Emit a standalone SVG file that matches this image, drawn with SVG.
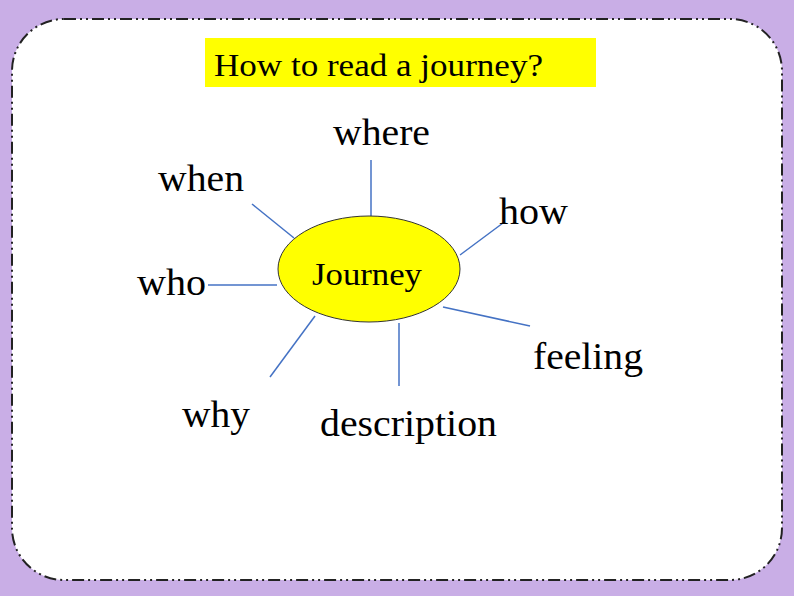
<svg xmlns="http://www.w3.org/2000/svg" width="794" height="596" viewBox="0 0 794 596">
<style>
.w{font-family:"Liberation Serif",serif;font-size:37px;fill:#000}
.c line{stroke:#4472c4;stroke-width:1.5}
</style>
<rect width="794" height="596" fill="#c9aee6"/>
<rect x="12" y="19" width="770" height="561" rx="52" fill="#fff" stroke="#222" stroke-width="2" stroke-dasharray="12 4 2 4 2 4"/>
<g id="title"><rect x="205" y="38" width="391" height="49" fill="#ffff00"/>
<text x="214" y="76" font-family="Liberation Serif,serif" font-size="31" textLength="329" lengthAdjust="spacingAndGlyphs">How to read a journey?</text></g>
<g class="c" id="connectors">
<line x1="371" y1="160" x2="371" y2="216"/>
<line x1="252" y1="204" x2="294" y2="238"/>
<line x1="460" y1="255" x2="503" y2="223"/>
<line x1="208" y1="285" x2="277" y2="285"/>
<line x1="443" y1="307" x2="530" y2="326"/>
<line x1="399" y1="323" x2="399" y2="386"/>
<line x1="315" y1="316" x2="270" y2="377"/>
</g>
<g id="journey"><ellipse cx="369" cy="269" rx="91" ry="53" fill="#ffff00" stroke="#333" stroke-width="1"/>
<text x="312" y="285" font-family="Liberation Serif,serif" font-size="31" textLength="110" lengthAdjust="spacingAndGlyphs">Journey</text></g>
<g id="where"><text class="w" x="333" y="145" textLength="97" lengthAdjust="spacingAndGlyphs">where</text></g>
<g id="when"><text class="w" x="158" y="191" textLength="86" lengthAdjust="spacingAndGlyphs">when</text></g>
<g id="how"><text class="w" x="499" y="224" textLength="69" lengthAdjust="spacingAndGlyphs">how</text></g>
<g id="who"><text class="w" x="137" y="295" textLength="69" lengthAdjust="spacingAndGlyphs">who</text></g>
<g id="feeling"><text class="w" x="533" y="369" textLength="110" lengthAdjust="spacingAndGlyphs">feeling</text></g>
<g id="why"><text class="w" x="182" y="427" textLength="68" lengthAdjust="spacingAndGlyphs">why</text></g>
<g id="description"><text class="w" x="320" y="436" textLength="177" lengthAdjust="spacingAndGlyphs">description</text></g>
</svg>
